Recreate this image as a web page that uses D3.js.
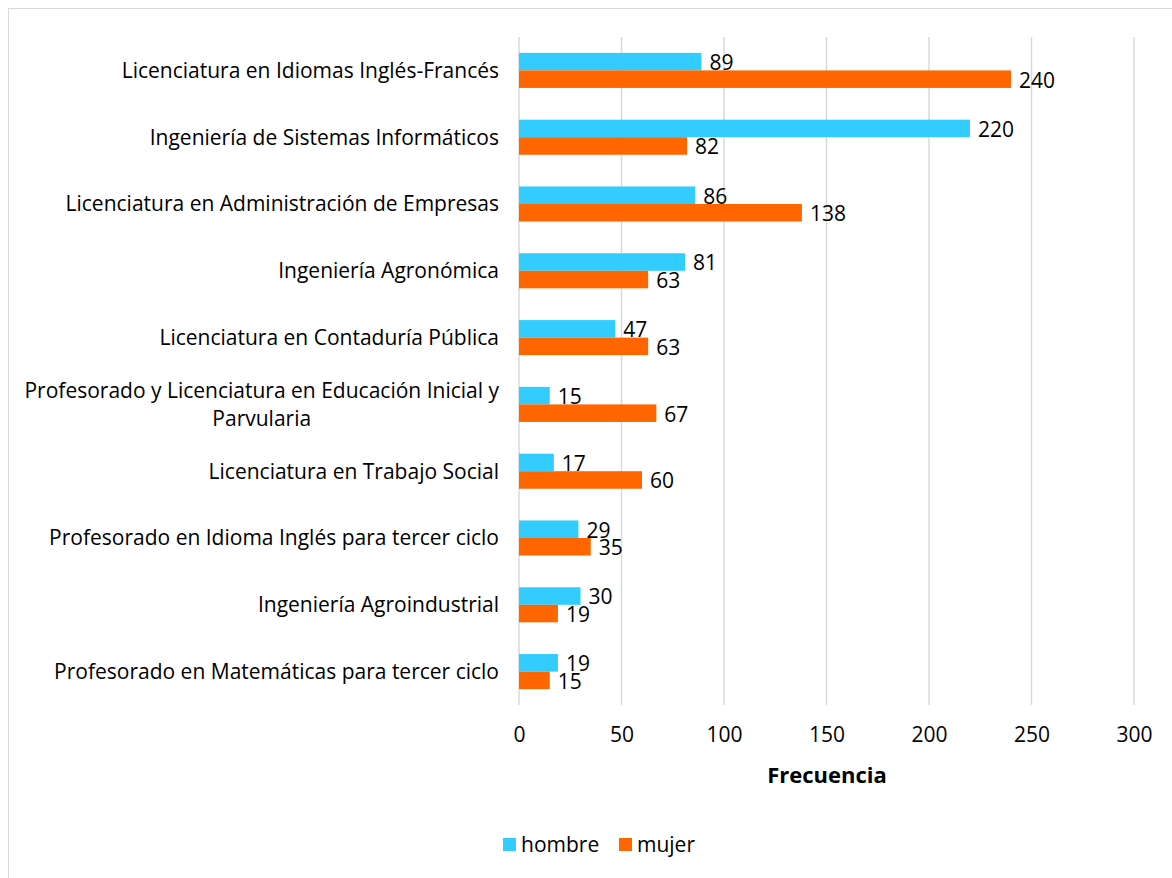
<!DOCTYPE html>
<html>
<head>
<meta charset="utf-8">
<script src="https://cdn.jsdelivr.net/npm/d3@7"></script>
<style>
  body { margin: 0; background: #fff; }
  text { font-family: "Open Sans", "Noto Sans", sans-serif; fill: #000; }
</style>
</head>
<body>
<div id="chart"></div>
<script>
(function() {
    const width = 1172,
          height = 878;

    // carreras, de arriba hacia abajo
    const carreras = [
        'Licenciatura en Idiomas Inglés-Francés',
        'Ingeniería de Sistemas Informáticos',
        'Licenciatura en Administración de Empresas',
        'Ingeniería Agronómica',
        'Licenciatura en Contaduría Pública',
        'Profesorado y Licenciatura en Educación Inicial y|Parvularia',
        'Licenciatura en Trabajo Social',
        'Profesorado en Idioma Inglés para tercer ciclo',
        'Ingeniería Agroindustrial',
        'Profesorado en Matemáticas para tercer ciclo'
    ];
    const hombre = [89, 220, 86, 81, 47, 15, 17, 29, 30, 19];
    const mujer  = [240, 82, 138, 63, 63, 67, 60, 35, 19, 15];
    const ticks  = [0, 50, 100, 150, 200, 250, 300];
    const series = ['hombre', 'mujer'];
    const colores = ['#33CCFF', '#FF6600'];

    const data = carreras.map((c, i) => ({ carrera: c, hombre: hombre[i], mujer: mujer[i] }));

    const xScale = d3.scaleLinear()
                    .domain([0, 300])
                    .range([519, 1134]);

    const yScale = d3.scaleBand()
                    .domain(carreras)
                    .range([37, 705])
                    .paddingInner(0.475)
                    .paddingOuter(0.2375);

    const subScale = d3.scaleBand()
                    .domain(series)
                    .range([0, yScale.bandwidth()]);

    const colorScale = d3.scaleOrdinal()
                    .domain(series)
                    .range(colores);

    const svg = d3.select('#chart')
        .append('svg')
        .attr('width', width)
        .attr('height', height);

    // marco
    svg.append('rect')
        .attr('x', 8.5).attr('y', 8.5)
        .attr('width', width + 10).attr('height', height + 10)
        .attr('fill', 'none')
        .attr('stroke', '#d9d9d9');

    // grid
    svg.append('g')
        .selectAll('line')
        .data(ticks)
        .enter().append('line')
        .attr('x1', d => xScale(d)).attr('x2', d => xScale(d))
        .attr('y1', 37).attr('y2', 705)
        .attr('stroke', '#d9d9d9')
        .attr('stroke-width', 1.5);

    const xAxis = d3.axisBottom(xScale)
        .tickValues(ticks)
        .tickSize(0)
        .tickPadding(0);

    svg.append('g')
        .attr('transform', 'translate(0, 735)')
        .call(xAxis)
        .call(g => g.select('.domain').remove())
        .selectAll('text')
        .attr('dy', '0.35em')
        .style('font-size', '21px')
        .style('font-family', '"Open Sans", sans-serif');

    svg.append('text')
        .attr('x', 827).attr('y', 775)
        .attr('dy', '0.35em')
        .attr('text-anchor', 'middle')
        .style('font-size', '22px')
        .style('font-weight', 'bold')
        .text('Frecuencia');

    // etiquetas de categorias
    const cat = svg.append('g')
        .selectAll('text')
        .data(carreras)
        .enter().append('text')
        .attr('text-anchor', 'end')
        .attr('x', 499)
        .attr('y', d => yScale(d) + yScale.bandwidth() / 2)
        .style('font-size', '21px');

    cat.each(function(d) {
        const lines = d.split('|');
        const el = d3.select(this);
        if (lines.length === 1) {
            el.attr('dy', '0.35em').text(d);
        } else {
            // bloque alineado a la derecha, lineas centradas
            const first = el.append('tspan').attr('dy', '-0.32em').text(lines[0]);
            const w = first.node().getComputedTextLength();
            const cx = 499 - w / 2;
            el.attr('text-anchor', 'middle');
            first.attr('x', cx);
            el.append('tspan')
                .attr('x', cx)
                .attr('dy', '1.33em')
                .text(lines[1]);
        }
    });

    const groups = svg.append('g')
        .selectAll('g')
        .data(data)
        .enter().append('g')
        .attr('transform', d => 'translate(0,' + yScale(d.carrera) + ')');

    groups.selectAll('rect')
        .data(d => series.map(s => ({ key: s, value: d[s] })))
        .enter().append('rect')
        .attr('x', xScale(0))
        .attr('y', d => subScale(d.key))
        .attr('width', d => xScale(d.value) - xScale(0))
        .attr('height', subScale.bandwidth())
        .attr('fill', d => colorScale(d.key));

    groups.selectAll('text')
        .data(d => series.map(s => ({ key: s, value: d[s] })))
        .enter().append('text')
        .attr('x', d => xScale(d.value) + 8)
        .attr('y', d => subScale(d.key) + subScale.bandwidth() / 2 + 1)
        .attr('dy', '0.35em')
        .style('font-size', '21px')
        .text(d => d.value);

    // leyenda
    const legend = svg.append('g')
        .selectAll('g')
        .data(series)
        .enter().append('g')
        .attr('transform', (d, i) => 'translate(' + (503 + i * 116) + ', 838)');

    legend.append('rect')
        .attr('width', 13).attr('height', 13)
        .attr('fill', d => colorScale(d));

    legend.append('text')
        .attr('x', 18).attr('y', 6.5)
        .attr('dy', '0.35em')
        .style('font-size', '21px')
        .text(d => d);
})();
</script>
</body>
</html>
